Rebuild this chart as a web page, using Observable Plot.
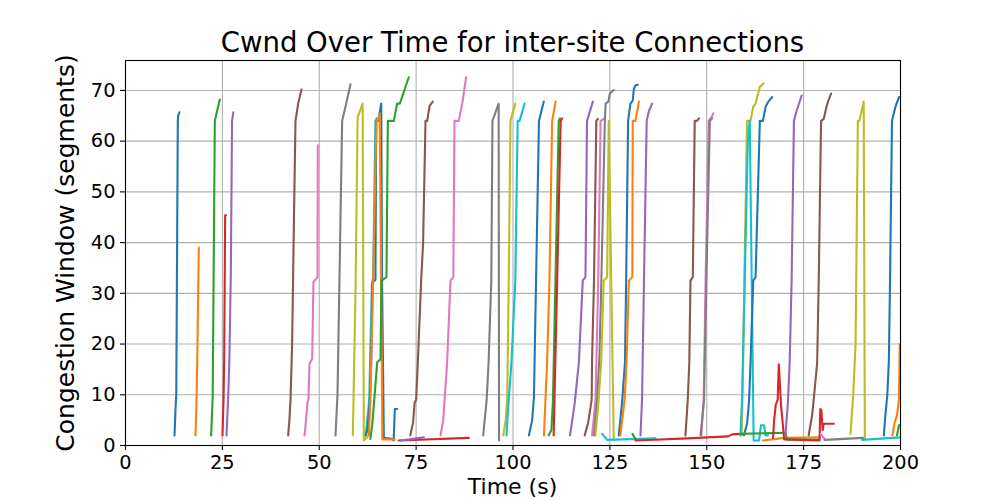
<!DOCTYPE html>
<html>
<head>
<meta charset="utf-8">
<script src="https://cdn.jsdelivr.net/npm/d3@7"></script>
<script src="https://cdn.jsdelivr.net/npm/@observablehq/plot@0.6"></script>
<style>
  html, body { margin: 0; padding: 0; background: #fff; }
  #wrap { position: relative; width: 1000px; height: 500px; overflow: hidden; background: #fff; font-family: "DejaVu Sans", sans-serif; color: #000; }
  #chart { position: absolute; left: 0; top: 0; }
  .txt { position: absolute; white-space: nowrap; line-height: 1; text-align: center; }
  #title { left: 125px; width: 775px; top: 29px; font-size: 27.5px; }
  #xlabel { left: 125px; width: 775px; top: 475.5px; font-size: 22px; }
  #ylabel { left: 65px; top: 252.5px; font-size: 25px; transform: translate(-50%, -50%) rotate(-90deg); }
</style>
</head>
<body>
<div id="wrap">
  <div id="chart"></div>
  <div class="txt" id="title">Cwnd Over Time for inter-site Connections</div>
  <div class="txt" id="xlabel">Time (s)</div>
  <div class="txt" id="ylabel">Congestion Window (segments)</div>
</div>
<script>
// Matplotlib tab10 colour cycle
const tab10 = ["#1f77b4", "#ff7f0e", "#2ca02c", "#d62728", "#9467bd", "#8c564b", "#e377c2", "#7f7f7f", "#bcbd22", "#17becf"];
const xTicks = [0, 25, 50, 75, 100, 125, 150, 175, 200];
const yTicks = [0, 10, 20, 30, 40, 50, 60, 70];

// Each connection: [time (s), cwnd (segments)]
const conn01 = [[12.65,2],[12.95,8],[13.1,10],[13.5,64],[13.6,65],[13.95,65.7]];
const conn02 = [[18.06,2],[18.3,8],[18.5,16],[18.92,39]];
const conn03 = [[22.1,2],[22.5,9.5],[23.05,64],[23.65,66],[24.26,68],[24.4,68.2]];
const conn04 = [[25.03,2],[25.3,9],[25.46,16.8],[25.72,45.4],[25.95,45.4]];
const conn05 = [[26.06,2],[26.5,9.5],[26.8,16.8],[27.17,33.2],[27.5,64],[27.83,65.7]];
const conn06 = [[41.98,2],[42.3,5],[42.58,8.9],[43.0,20],[43.44,43],[43.87,64],[44.56,67.4],[45.42,70.2]];
const conn07 = [[46.2,2],[46.6,5],[46.97,8.6],[47.2,9],[47.48,16.1],[48.17,17.1],[48.5,32.2],[49.55,33.2],[49.63,59.2]];
const conn08 = [[54.19,2],[54.71,10],[55.91,64],[56.77,66.8],[58.06,71.2]];
const conn09 = [[58.67,2],[59.35,30],[59.9,64.7],[61.2,67.4],[61.5,1.0],[62.8,2]];
const conn10 = [[62.0,2],[62.9,9],[63.1,16],[63.6,32],[63.9,33],[64.5,64],[64.8,64.5]];
const conn11 = [[61.94,2],[62.5,3],[63.05,8.9],[63.4,16],[63.74,32],[64.5,32.7],[64.7,64],[65.2,64],[66.0,67.4],[66.2,33],[66.67,1.5],[68.8,1.3],[69.2,1.0],[69.5,7.2],[70.1,7.2]];
const conn12 = [[62.8,2],[63.2,8.9],[63.4,16],[63.9,32.5],[64.77,64],[65.4,64.7],[65.6,65.5],[66.3,1.2],[69.5,1.2]];
const conn13 = [[63.2,1.3],[63.66,4],[64.1,8],[64.95,16.4],[65.8,17],[66.06,32.5],[67.35,33.2],[67.7,64],[69.25,64],[70.1,67.4],[70.8,67.4],[73.1,72.6]];
const conn14 = [[70.5,1.0],[88.6,1.5]];
const conn15 = [[71.0,1.0],[77.0,1.6]];
const conn16 = [[73.5,2],[74.2,4.5],[74.6,8.4],[75.0,9],[75.44,16.4],[76.3,32.5],[76.8,40],[77.42,64],[77.85,64],[78.5,67],[79.3,67.8]];
const conn17 = [[81.3,2],[82.0,5],[82.3,8.5],[83.0,16.4],[83.87,32.5],[84.6,33.2],[84.9,64],[86.0,64],[86.9,67.4],[87.9,72.6]];
const conn18 = [[92.3,2],[93.2,8.9],[93.7,16.4],[94.4,32.5],[94.7,64],[96.3,67.4],[96.4,1.0]];
const conn19 = [[97.5,2],[98.1,5],[98.5,8.9],[98.9,32.5],[99.35,64],[100.6,67.4]];
const conn20 = [[98.3,2],[98.9,9],[99.6,16.4],[100.6,32.5],[101.2,64],[101.7,64],[103.0,67.4]];
const conn21 = [[104.1,2],[104.95,5],[105.4,9.5],[106.7,64],[107.95,67.8]];
const conn22 = [[108.0,2],[108.4,9.5],[108.8,16.4],[109.4,32.5],[110.1,64],[111.0,67.8]];
const conn23 = [[109.2,2],[109.9,3],[110.3,8.5],[111.8,64],[112.1,64.5]];
const conn24 = [[110.5,2],[111.4,32.5],[112.3,64],[112.7,64.5]];
const conn25 = [[114.7,2],[115.3,5],[115.95,8.5],[117.0,16.4],[118.0,32.5],[118.7,33.2],[119.1,64],[120.6,67.8]];
const conn26 = [[118.5,2],[119.4,4.5],[120.3,9],[120.4,16.8],[120.9,32.5],[121.5,64],[121.9,64.4]];
const conn27 = [[120.4,2],[121.3,9],[122.0,32.5],[122.6,64],[123.4,64.4]];
const conn28 = [[120.9,2],[121.7,9],[122.3,17.3],[122.8,32.5],[123.7,64],[123.9,67.4],[124.6,67.8],[125.0,69.4],[126.0,70.1]];
const conn29 = [[121.3,2],[122.1,9],[122.8,17],[123.4,32.5],[124.3,33.2],[124.7,64],[126.0,1.3]];
const conn30 = [[123.0,2.3],[124.3,1.1],[136.8,1.4]];
const conn31 = [[127.3,2],[128.2,9],[128.9,16.4],[129.2,32.5],[129.7,64],[130.3,67.4],[130.9,68],[131.2,70.3],[131.6,71],[132.2,71.1]];
const conn32 = [[127.7,2],[128.8,9],[129.3,16.4],[129.9,32.5],[130.8,33.2],[130.9,64],[131.6,64],[132.5,67.8]];
const conn33 = [[130.8,2.3],[131.6,1.3]];
const conn34 = [[131.6,1.0],[145.0,1.4],[155.5,1.8],[156.6,2.2],[158.7,2.3]];
const conn35 = [[132.9,2],[133.3,9],[133.8,32.5],[134.5,64],[135.1,66],[135.9,67.4]];
const conn36 = [[144.5,2],[145.1,9],[145.5,16.4],[145.8,32.5],[146.4,33.2],[146.9,64],[147.5,64],[148.0,64.5]];
const conn37 = [[148.6,2],[149.2,9],[149.7,32.5],[150.5,64],[151.4,65],[151.7,65.5]];
const conn38 = [[148.4,2],[149.3,9],[149.9,32.5],[150.8,64],[151.4,64.5]];
const conn39 = [[159.0,2],[159.4,16.4],[159.7,32.5],[160.4,64],[161.3,64],[162.0,66.8],[162.6,67.4],[163.7,70.7],[164.7,71.4]];
const conn40 = [[158.7,2],[159.1,9],[159.8,32.5],[160.6,60],[161.1,64],[162.1,1.0],[163.5,1.0],[164.0,4.0],[164.8,4.0],[165.2,2.0],[165.8,2.0]];
const conn41 = [[159.6,2],[160.4,4.3],[160.9,8.5],[161.3,16.4],[162.0,32.5],[162.6,33.2],[163.7,64],[164.5,64],[165.2,66.8],[165.9,67.8],[166.9,68.7]];
const conn42 = [[164.5,1.0],[170.0,1.5],[179.2,1.6]];
const conn43 = [[158.7,2.3],[170.3,2.5],[170.7,1.2],[179.0,1.1]];
const conn44 = [[167.1,1.5],[167.4,5],[167.8,8],[168.3,9],[168.6,16],[169.2,7.6],[170.0,1.2],[179.1,1.0],[179.3,7.2],[179.6,7.0],[179.9,3.0],[180.2,4.3],[182.8,4.3]];
const conn45 = [[170.3,2],[170.9,8],[171.4,16.4],[171.9,32.5],[172.5,64],[173.2,66],[174.5,69]];
const conn46 = [[176.3,2],[177.2,6],[177.6,9],[178.5,16.4],[178.9,32.5],[179.5,64],[180.2,64.4],[180.9,66.8],[181.3,67.8],[182.1,69.4]];
const conn47 = [[179.4,2.3],[180.4,1.3]];
const conn48 = [[180.4,1.1],[190.5,1.5]];
const conn49 = [[187.1,2.3],[187.8,10],[188.4,20],[189.0,64],[189.4,64],[190.5,67.8],[190.8,1.3]];
const conn50 = [[190.1,1.1],[200.0,1.6]];
const conn51 = [[195.7,2],[196.1,6],[196.6,10],[197.0,16.8],[197.3,32.5],[197.8,64],[198.7,66.8],[199.6,68.7]];
const conn52 = [[197.9,2],[198.5,4.5],[199.1,6],[199.6,9],[199.8,20]];
const conn53 = [[199.1,2],[199.6,4],[200.0,4]];

const connections = [conn01, conn02, conn03, conn04, conn05, conn06, conn07, conn08, conn09, conn10,
  conn11, conn12, conn13, conn14, conn15, conn16, conn17, conn18, conn19, conn20,
  conn21, conn22, conn23, conn24, conn25, conn26, conn27, conn28, conn29, conn30,
  conn31, conn32, conn33, conn34, conn35, conn36, conn37, conn38, conn39, conn40,
  conn41, conn42, conn43, conn44, conn45, conn46, conn47, conn48, conn49, conn50,
  conn51, conn52, conn53];

const rows = connections.flatMap((pts, i) => pts.map(([t, cwnd]) => ({conn: i, t, cwnd})));
const ids = connections.map((_, i) => i);

const gridStyle = {stroke: "#b0b0b0", strokeOpacity: 1, strokeWidth: 1.1};

const chart = Plot.plot({
  width: 1000,
  height: 500,
  marginTop: 60,
  marginRight: 100,
  marginBottom: 55,
  marginLeft: 125,
  style: {fontFamily: "DejaVu Sans", fontSize: "19.4px", color: "#000", background: "#fff"},
  x: {domain: [0, 200], label: null},
  y: {domain: [0, 75.9], label: null},
  color: {type: "ordinal", domain: ids, range: ids.map(i => tab10[i % 10])},
  marks: [
    Plot.gridX(xTicks, gridStyle),
    Plot.gridY(yTicks, gridStyle),
    Plot.line(rows, {x: "t", y: "cwnd", z: "conn", stroke: "conn", strokeWidth: 2.1, clip: true, curve: "linear"}),
    Plot.frame({stroke: "#000", strokeWidth: 1.1}),
    Plot.axisX(xTicks, {anchor: "bottom", tickSize: 5, tickPadding: 5, strokeWidth: 1.1, fontSize: 19.4, label: null}),
    Plot.axisY(yTicks, {anchor: "left", tickSize: 5, tickPadding: 5, strokeWidth: 1.1, fontSize: 19.4, label: null})
  ]
});
document.getElementById("chart").appendChild(chart);
</script>
</body>
</html>
